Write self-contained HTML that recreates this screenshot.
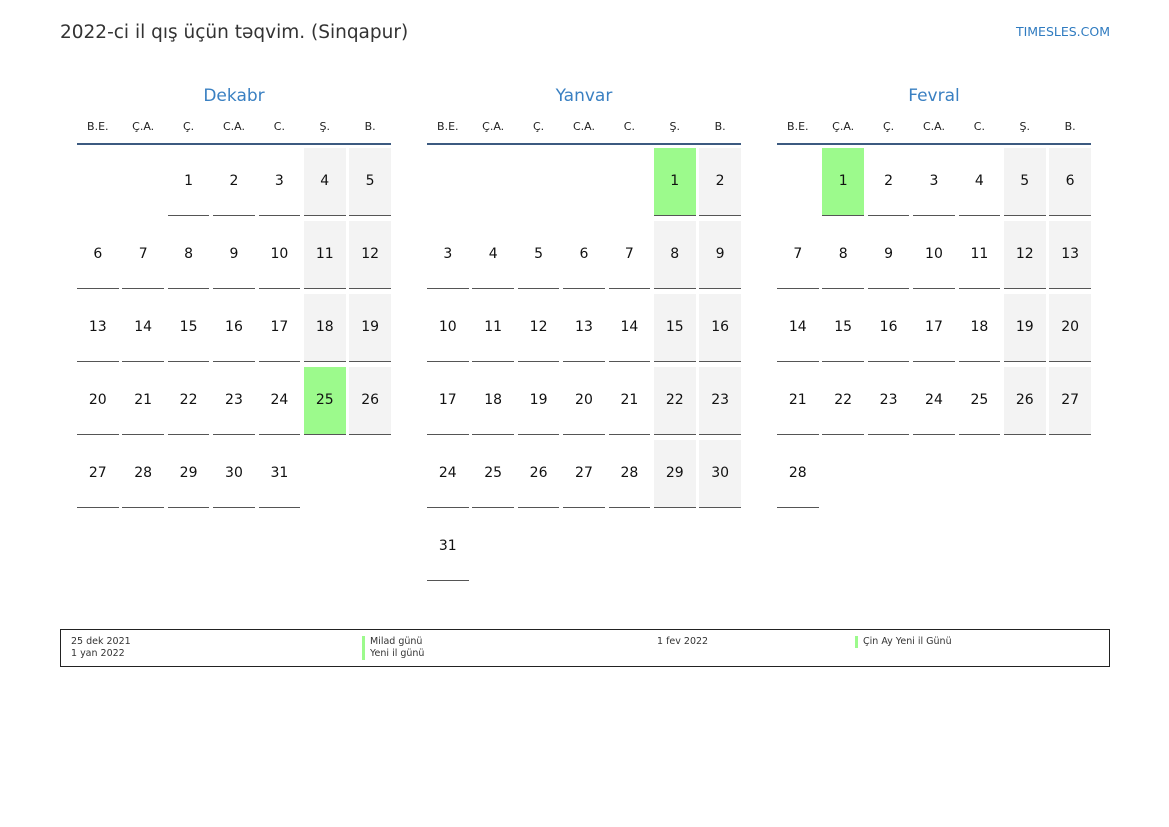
<!DOCTYPE html>
<html><head><meta charset="utf-8"><style>
*{margin:0;padding:0;box-sizing:border-box}
body{width:1169px;height:827px;background:#fff;font-family:"DejaVu Sans","Liberation Sans",sans-serif;color:#111;position:relative;overflow:hidden}
.title{position:absolute;left:60px;top:22px;font-size:18.5px;color:#333}
.brand{position:absolute;right:59px;top:24px;font-size:12.5px;color:#2f7bc0}
.m{position:absolute;top:85px;width:314px}
.mt{text-align:center;font-size:17px;color:#3a80c2;height:22px;line-height:22px}
.hd{display:grid;grid-template-columns:repeat(7,41.6px);column-gap:3.8px;margin-top:13px;font-size:11px;text-align:center;height:23px;line-height:14px;color:#222}
.rule{height:2px;background:#3c5a80}
.g{display:grid;grid-template-columns:repeat(7,41.6px);column-gap:3.8px;row-gap:5px;margin-top:3px}
.g span{height:68px;line-height:67px;text-align:center;font-size:14px;border-bottom:1.5px solid #555}
.g span.e{border-bottom:none}
.g span.w{background:#f3f3f3}
.g span.h{background:#9cfa8c}
.leg{position:absolute;left:60px;top:629px;width:1050px;height:38px;border:1px solid #222;font-size:9.5px;color:#333}
.leg div{position:absolute;line-height:12px}
.bar{border-left:3px solid #9cfa8c;padding-left:5px}
</style></head><body>
<div class="title">2022-ci il qış üçün təqvim. (Sinqapur)</div>
<div class="brand">TIMESLES.COM</div>

<div class="m" style="left:77px">
<div class="mt">Dekabr</div>
<div class="hd"><span>B.E.</span><span>Ç.A.</span><span>Ç.</span><span>C.A.</span><span>C.</span><span>Ş.</span><span>B.</span></div>
<div class="rule"></div>
<div class="g">
<span class="e"></span><span class="e"></span><span>1</span><span>2</span><span>3</span><span class="w">4</span><span class="w">5</span>
<span>6</span><span>7</span><span>8</span><span>9</span><span>10</span><span class="w">11</span><span class="w">12</span>
<span>13</span><span>14</span><span>15</span><span>16</span><span>17</span><span class="w">18</span><span class="w">19</span>
<span>20</span><span>21</span><span>22</span><span>23</span><span>24</span><span class="h">25</span><span class="w">26</span>
<span>27</span><span>28</span><span>29</span><span>30</span><span>31</span>
</div></div>

<div class="m" style="left:427px">
<div class="mt">Yanvar</div>
<div class="hd"><span>B.E.</span><span>Ç.A.</span><span>Ç.</span><span>C.A.</span><span>C.</span><span>Ş.</span><span>B.</span></div>
<div class="rule"></div>
<div class="g">
<span class="e"></span><span class="e"></span><span class="e"></span><span class="e"></span><span class="e"></span><span class="h">1</span><span class="w">2</span>
<span>3</span><span>4</span><span>5</span><span>6</span><span>7</span><span class="w">8</span><span class="w">9</span>
<span>10</span><span>11</span><span>12</span><span>13</span><span>14</span><span class="w">15</span><span class="w">16</span>
<span>17</span><span>18</span><span>19</span><span>20</span><span>21</span><span class="w">22</span><span class="w">23</span>
<span>24</span><span>25</span><span>26</span><span>27</span><span>28</span><span class="w">29</span><span class="w">30</span>
<span>31</span>
</div></div>

<div class="m" style="left:777px">
<div class="mt">Fevral</div>
<div class="hd"><span>B.E.</span><span>Ç.A.</span><span>Ç.</span><span>C.A.</span><span>C.</span><span>Ş.</span><span>B.</span></div>
<div class="rule"></div>
<div class="g">
<span class="e"></span><span class="h">1</span><span>2</span><span>3</span><span>4</span><span class="w">5</span><span class="w">6</span>
<span>7</span><span>8</span><span>9</span><span>10</span><span>11</span><span class="w">12</span><span class="w">13</span>
<span>14</span><span>15</span><span>16</span><span>17</span><span>18</span><span class="w">19</span><span class="w">20</span>
<span>21</span><span>22</span><span>23</span><span>24</span><span>25</span><span class="w">26</span><span class="w">27</span>
<span>28</span>
</div></div>

<div class="leg">
<div style="left:10px;top:6px">25 dek 2021<br>1 yan 2022</div>
<div style="left:301px;top:6px"><div class="bar" style="position:static">Milad günü</div><div class="bar" style="position:static">Yeni il günü</div></div>
<div style="left:596px;top:6px">1 fev 2022</div>
<div class="bar" style="left:794px;top:6px">Çin Ay Yeni il Günü</div>
</div>
</body></html>
